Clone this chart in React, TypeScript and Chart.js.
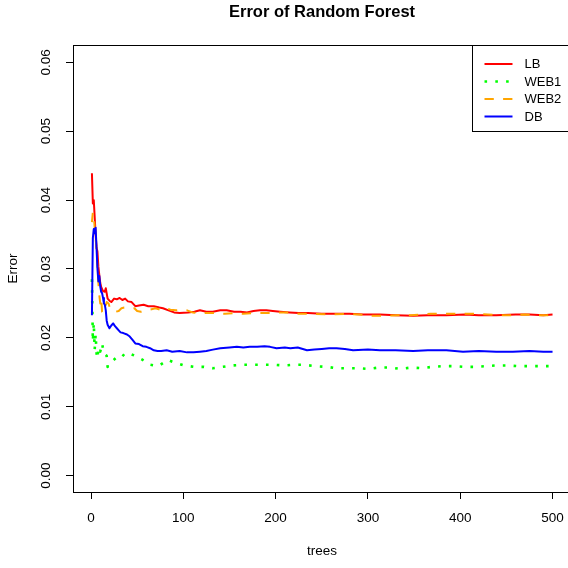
import React, { useEffect, useRef } from "react";
import { Chart, registerables } from "chart.js";

Chart.register(...registerables);

// ---- data ----
const seriesNames = ["LB", "WEB1", "WEB2", "DB"];

const lbTrees = [1, 2, 3, 4, 5, 6, 7, 8, 9, 10, 11, 13, 15, 16, 18, 20, 22, 25, 28, 31, 34, 37, 40, 44, 48, 52, 57, 62, 68, 74, 78, 84, 90, 96, 105, 112, 118, 125, 132, 140, 147, 155, 162, 169, 176, 183, 190, 197, 205, 215, 225, 235, 250, 265, 280, 295, 313, 330, 349, 365, 385, 405, 420, 439, 460, 475, 490, 500];
const lbErr = [0.0439, 0.0395, 0.0400, 0.0375, 0.0350, 0.0332, 0.0325, 0.0303, 0.0291, 0.0280, 0.0274, 0.0268, 0.0267, 0.0272, 0.0257, 0.0254, 0.0252, 0.0257, 0.0256, 0.0258, 0.0255, 0.0257, 0.0253, 0.0252, 0.0246, 0.0247, 0.0248, 0.0246, 0.0246, 0.0244, 0.0243, 0.0240, 0.0237, 0.0236, 0.0237, 0.0238, 0.0240, 0.0238, 0.0238, 0.0240, 0.0240, 0.0238, 0.0238, 0.0237, 0.0239, 0.0240, 0.0240, 0.0239, 0.0238, 0.0237, 0.0236, 0.0236, 0.0235, 0.0235, 0.0235, 0.0234, 0.0234, 0.0233, 0.0232, 0.0233, 0.0233, 0.0234, 0.0233, 0.0233, 0.0234, 0.0234, 0.0233, 0.0234];

const web1Trees = [1, 2, 3, 4, 5, 6, 7, 8, 10, 12, 14, 17, 18, 22, 27, 32, 37, 42, 48, 56, 64, 73, 83, 91, 101, 112, 122, 132, 143, 153, 164, 175, 187, 198, 209, 220, 231, 243, 255, 266, 278, 289, 301, 312, 324, 335, 347, 358, 370, 381, 393, 404, 416, 428, 439, 451, 462, 474, 486, 500];
const web1Err = [0.0285, 0.0195, 0.0222, 0.0183, 0.0205, 0.0178, 0.0170, 0.0186, 0.0180, 0.0192, 0.0177, 0.0174, 0.0158, 0.0165, 0.0171, 0.0170, 0.0178, 0.0177, 0.0174, 0.0168, 0.0161, 0.0159, 0.0168, 0.0164, 0.0160, 0.0158, 0.0158, 0.0156, 0.0158, 0.0160, 0.0161, 0.0161, 0.0161, 0.0161, 0.0160, 0.0161, 0.0161, 0.0159, 0.0158, 0.0156, 0.0156, 0.0156, 0.0155, 0.0157, 0.0157, 0.0155, 0.0157, 0.0156, 0.0158, 0.0159, 0.0159, 0.0158, 0.0158, 0.0159, 0.0160, 0.0160, 0.0159, 0.0159, 0.0159, 0.0159];

const web2Trees = [1, 2, 3, 4, 5, 6, 7, 8, 9, 10, 11, 12, 13, 15, 17, 19, 21, 24, 27, 30, 33, 36, 39, 43, 47, 50, 54, 58, 64, 70, 75, 80, 86, 92, 98, 104, 110, 118, 128, 137, 145, 155, 165, 175, 185, 195, 205, 215, 225, 240, 260, 277, 290, 305, 315, 333, 346, 358, 368, 385, 400, 414, 430, 442, 455, 470, 485, 500];
const web2Err = [0.0368, 0.0382, 0.0378, 0.0360, 0.0345, 0.0328, 0.0300, 0.0280, 0.0262, 0.0250, 0.0258, 0.0238, 0.0236, 0.0242, 0.0252, 0.0250, 0.0241, 0.0239, 0.0238, 0.0239, 0.0243, 0.0244, 0.0244, 0.0243, 0.0243, 0.0239, 0.0238, 0.0240, 0.0241, 0.0243, 0.0241, 0.0244, 0.0241, 0.0240, 0.0241, 0.0240, 0.0237, 0.0236, 0.0236, 0.0236, 0.0235, 0.0236, 0.0235, 0.0236, 0.0236, 0.0236, 0.0237, 0.0237, 0.0235, 0.0235, 0.0234, 0.0235, 0.0234, 0.0232, 0.0232, 0.0233, 0.0233, 0.0234, 0.0235, 0.0235, 0.0235, 0.0235, 0.0234, 0.0233, 0.0233, 0.0234, 0.0233, 0.0233];

const dbTrees = [1, 2, 3, 4, 5, 6, 7, 8, 9, 10, 11, 12, 13, 14, 15, 16, 17, 18, 20, 22, 24, 26, 28, 30, 32, 35, 39, 42, 45, 48, 52, 56, 60, 64, 68, 72, 76, 82, 88, 96, 104, 111, 118, 125, 132, 140, 150, 158, 165, 172, 180, 188, 194, 201, 210, 216, 224, 234, 242, 250, 258, 266, 275, 284, 300, 313, 330, 349, 365, 385, 403, 420, 439, 457, 475, 490, 500];
const dbErr = [0.0233, 0.0345, 0.0358, 0.0352, 0.0360, 0.0330, 0.0300, 0.0282, 0.0290, 0.0275, 0.0267, 0.0265, 0.0258, 0.0250, 0.0248, 0.0240, 0.0225, 0.0219, 0.0214, 0.0218, 0.0221, 0.0217, 0.0214, 0.0211, 0.0208, 0.0207, 0.0205, 0.0202, 0.0197, 0.0192, 0.0191, 0.0188, 0.0187, 0.0185, 0.0182, 0.0181, 0.0181, 0.0182, 0.0180, 0.0181, 0.0179, 0.0179, 0.0180, 0.0181, 0.0183, 0.0185, 0.0186, 0.0187, 0.0186, 0.0187, 0.0187, 0.0188, 0.0187, 0.0185, 0.0186, 0.0185, 0.0186, 0.0182, 0.0183, 0.0184, 0.0185, 0.0185, 0.0184, 0.0182, 0.0183, 0.0182, 0.0182, 0.0181, 0.0182, 0.0182, 0.0180, 0.0181, 0.0180, 0.0180, 0.0181, 0.0180, 0.0180];

const xTicks = [0, 100, 200, 300, 400, 500];
const yTicks = [0, 0.01, 0.02, 0.03, 0.04, 0.05, 0.06];

const FONT = "'Liberation Sans', Arial, Helvetica, sans-serif";

function pts(xs: number[], ys: number[]) {
  return xs.map((x, i) => ({ x, y: ys[i] }));
}

const boxPlugin = {
  id: "rBox",
  afterDraw(chart: any) {
    const { ctx, chartArea } = chart;
    ctx.save();
    ctx.strokeStyle = "#000";
    ctx.lineWidth = 1;
    ctx.setLineDash([]);
    const l = Math.round(chartArea.left) + 0.5;
    const t = Math.round(chartArea.top) + 0.5;
    const r = Math.round(chartArea.right) + 0.5;
    const b = Math.round(chartArea.bottom) + 0.5;
    ctx.strokeRect(l, t, r - l, b - t);

    // legend (top-right, R style)
    const lx = chartArea.left + 399.5;
    const ly = t;
    const lh = 86;
    ctx.fillStyle = "#fff";
    ctx.fillRect(lx, ly, r - lx, lh);
    ctx.strokeRect(lx, ly, r - lx, lh);
    ctx.font = `13px ${FONT}`;
    ctx.textBaseline = "middle";
    ctx.textAlign = "left";
    chart.data.datasets.forEach((ds: any, i: number) => {
      const y = ly + 18.5 + i * 17.5;
      ctx.beginPath();
      ctx.strokeStyle = ds.borderColor;
      ctx.lineWidth = ds.borderWidth;
      ctx.lineCap = "butt";
      ctx.setLineDash(ds.borderDash || []);
      ctx.moveTo(lx + 12, y);
      ctx.lineTo(lx + 40, y);
      ctx.stroke();
      ctx.setLineDash([]);
      ctx.fillStyle = "#000";
      ctx.fillText(ds.label, lx + 52, y + 0.5);
    });
    ctx.restore();
  },
};

export default function App() {
  const ref = useRef<HTMLCanvasElement>(null);
  useEffect(() => {
    document.body.style.margin = "0";
    Chart.defaults.font.family = FONT;
    const canvas = ref.current;
    if (!canvas) return;
    const lineCommon = {
      borderWidth: 2,
      pointRadius: 0,
      tension: 0,
      borderJoinStyle: "round" as const,
      borderCapStyle: "butt" as const,
      fill: false,
    };
    const chart = new Chart(canvas, {
      type: "line",
      data: {
        datasets: [
          { ...lineCommon, label: seriesNames[0], data: pts(lbTrees, lbErr), borderColor: "#FF0000", order: 3 },
          { ...lineCommon, label: seriesNames[1], data: pts(web1Trees, web1Err), borderColor: "#00FF00", borderDash: [2.6, 8.2], borderWidth: 2.6, order: 2 },
          { ...lineCommon, label: seriesNames[2], data: pts(web2Trees, web2Err), borderColor: "#FFA500", borderDash: [9.3, 9.3], order: 1 },
          { ...lineCommon, label: seriesNames[3], data: pts(dbTrees, dbErr), borderColor: "#0000FF", order: 0 },
        ],
      },
      options: {
        animation: false,
        responsive: false,
        devicePixelRatio: 1,
        layout: { padding: 0 },
        plugins: {
          legend: { display: false },
          tooltip: { enabled: false },
          title: {
            display: true,
            text: "Error of Random Forest",
            color: "#000",
            font: { size: 16.5, weight: "bold", family: FONT },
            padding: { top: 2.4, bottom: 22.8 },
          },
        },
        scales: {
          x: {
            type: "linear",
            min: -19.5,
            max: 520,
            afterBuildTicks: (s: any) => {
              s.ticks = xTicks.map((v) => ({ value: v }));
            },
            afterFit: (s: any) => {
              s.height = 76;
            },
            grid: { drawOnChartArea: false, drawTicks: true, tickLength: 7, color: "#000", lineWidth: 1 },
            border: { display: false },
            ticks: {
              color: "#000",
              font: { size: 13.5, family: FONT },
              padding: 11,
              maxRotation: 0,
              autoSkip: false,
              callback: (v: any) => String(v),
            },
            title: {
              display: true,
              text: "trees",
              color: "#000",
              font: { size: 13.5, family: FONT },
              padding: { top: 0, bottom: 9 },
            },
          },
          y: {
            type: "linear",
            min: -0.002366,
            max: 0.06251,
            afterBuildTicks: (s: any) => {
              s.ticks = yTicks.map((v) => ({ value: v }));
            },
            afterFit: (s: any) => {
              s.width = 73;
            },
            grid: { drawOnChartArea: false, drawTicks: true, tickLength: 7, color: "#000", lineWidth: 1 },
            border: { display: false },
            ticks: {
              color: "#000",
              font: { size: 13.5, family: FONT },
              minRotation: 90,
              maxRotation: 90,
              crossAlign: "center",
              padding: 6.4,
              autoSkip: false,
              callback: (v: any) => Number(v).toFixed(2),
            },
            title: {
              display: true,
              text: "Error",
              color: "#000",
              font: { size: 13.5, family: FONT },
              padding: { top: 5.5, bottom: 0 },
            },
          },
          // empty right margin (R's right margin), keeps the title centred over the plot
          yRight: {
            type: "linear",
            position: "right",
            display: true,
            afterFit: (s: any) => {
              s.width = 73;
            },
            grid: { display: false, drawTicks: false },
            border: { display: false },
            ticks: { display: false },
          },
        },
      } as any,
      plugins: [boxPlugin],
    });
    return () => chart.destroy();
  }, []);
  return (
    <div style={{ position: "fixed", left: 0, top: 0, width: 568, height: 568, overflow: "hidden", background: "#fff" }}>
      <canvas ref={ref} width={644} height={568} style={{ display: "block", width: 644, height: 568 }} />
    </div>
  );
}
